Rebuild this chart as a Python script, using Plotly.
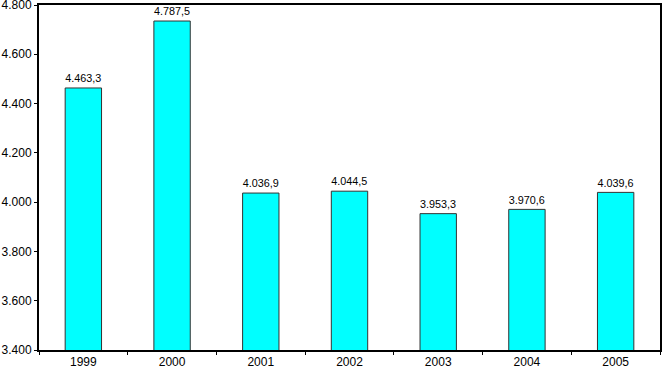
import plotly.graph_objects as go

years = ["1999", "2000", "2001", "2002", "2003", "2004", "2005"]
values = [4463.3, 4787.5, 4036.9, 4044.5, 3953.3, 3970.6, 4039.6]
bar_heights = [4463.3, 4735.0, 4036.9, 4044.5, 3953.3, 3970.6, 4039.6]


def fmt(v):
    s = f"{v:,.1f}"
    return s.replace(",", "X").replace(".", ",").replace("X", ".")


labels = [fmt(v) for v in values]

fig = go.Figure(
    go.Bar(
        x=years,
        y=bar_heights,
        base=0,
        text=labels,
        textposition="outside",
        cliponaxis=False,
        textfont=dict(family="Liberation Sans, Arial", size=12, color="black"),
        marker=dict(color="#00FFFF", line=dict(color="#333333", width=1)),
        width=0.41,
    )
)

fig.update_layout(
    width=662,
    height=366,
    margin=dict(l=39, r=2, t=5, b=16),
    paper_bgcolor="white",
    plot_bgcolor="white",
    separators=",.",
    font=dict(family="Liberation Sans, Arial", size=12, color="black"),
    showlegend=False,
)
fig.update_xaxes(
    type="category",
    showline=True,
    linecolor="black",
    linewidth=2,
    mirror=True,
    ticks="outside",
    tickson="boundaries",
    ticklen=3,
    tickcolor="black",
    showgrid=False,
    automargin=False,
    ticklabeloverflow="allow",
)
fig.update_yaxes(
    range=[3400, 4800],
    dtick=200,
    tick0=3400,
    tickformat=",.0f",
    showline=True,
    linecolor="black",
    linewidth=2,
    mirror=True,
    ticks="outside",
    ticklen=3,
    tickcolor="black",
    showgrid=False,
    zeroline=False,
    automargin=False,
    ticklabeloverflow="allow",
)

fig.write_html(
    "out.html",
    config={"displayModeBar": False},
    post_script="document.body.style.margin='0';document.body.style.overflow='hidden';",
)
